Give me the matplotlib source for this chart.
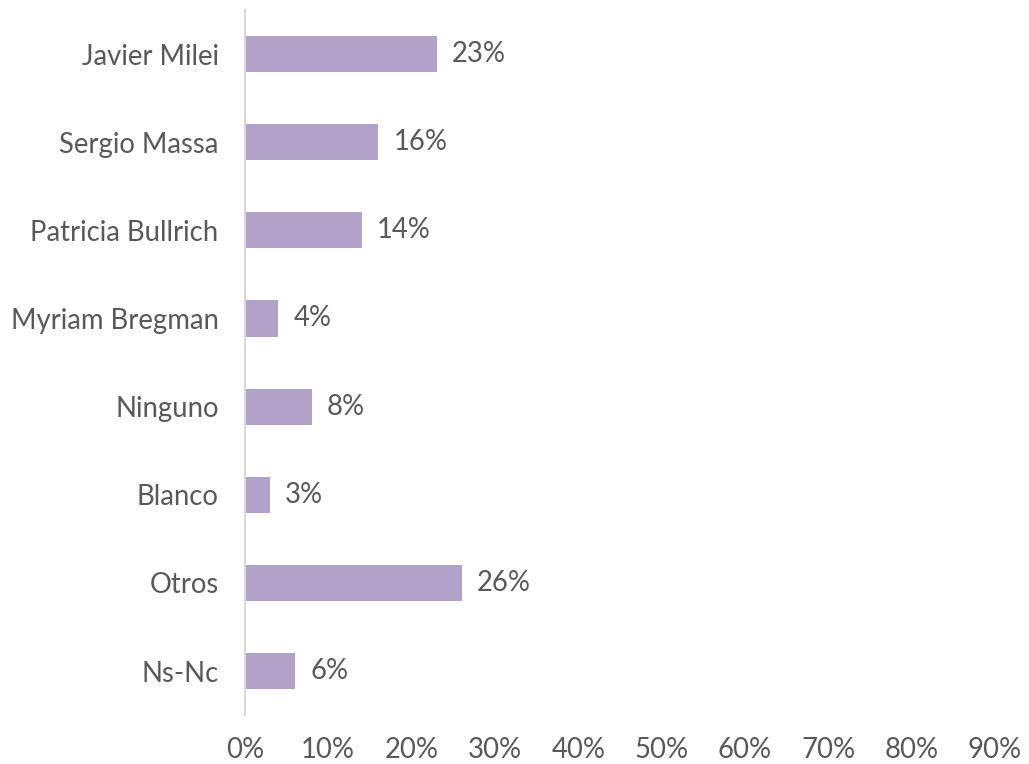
import matplotlib
matplotlib.use('Agg')
import numpy as np
import matplotlib.pyplot as plt
from matplotlib.ticker import PercentFormatter

# Vote intention per candidate (share of respondents)
candidates = ['Javier Milei', 'Sergio Massa', 'Patricia Bullrich', 'Myriam Bregman',
              'Ninguno', 'Blanco', 'Otros', 'Ns-Nc']
shares = [0.23, 0.16, 0.14, 0.04, 0.08, 0.03, 0.26, 0.06]
x_ticks = [0.0, 0.1, 0.2, 0.3, 0.4, 0.5, 0.6, 0.7, 0.8, 0.9]

bar_col = '#B3A2C7'
txt_col = '#595959'
axis_col = '#D9D9D9'
fs = 19.8

plt.rcParams['font.family'] = ['Lato', 'DejaVu Sans']
plt.rcParams['font.size'] = fs

fig = plt.figure(figsize=(10.29, 7.64), dpi=100)
ax = fig.add_axes([0.238, 0.064, 0.729, 0.923])

y = np.arange(len(candidates))
ax.barh(y, shares, height=0.41, color=bar_col, zorder=2)

for yi, v in zip(y, shares):
    ax.annotate(f'{v:.0%}', xy=(v, yi), xytext=(11, 0), textcoords='offset points',
                va='center', ha='left', color=txt_col, fontsize=fs)

ax.set_xlim(0, 0.9)
ax.set_ylim(len(candidates) - 0.5, -0.5)
ax.set_xticks(x_ticks)
ax.xaxis.set_major_formatter(PercentFormatter(1.0, decimals=0))
ax.set_yticks(y)
ax.set_yticklabels(candidates)

ax.tick_params(axis='both', length=0, colors=txt_col, labelsize=fs)
ax.tick_params(axis='y', pad=19)
ax.tick_params(axis='x', pad=16)

for side in ['top', 'right', 'bottom']:
    ax.spines[side].set_visible(False)
ax.spines['left'].set_color(axis_col)
ax.spines['left'].set_linewidth(1.5)

fig.savefig('out.png', dpi=100, facecolor='w')
